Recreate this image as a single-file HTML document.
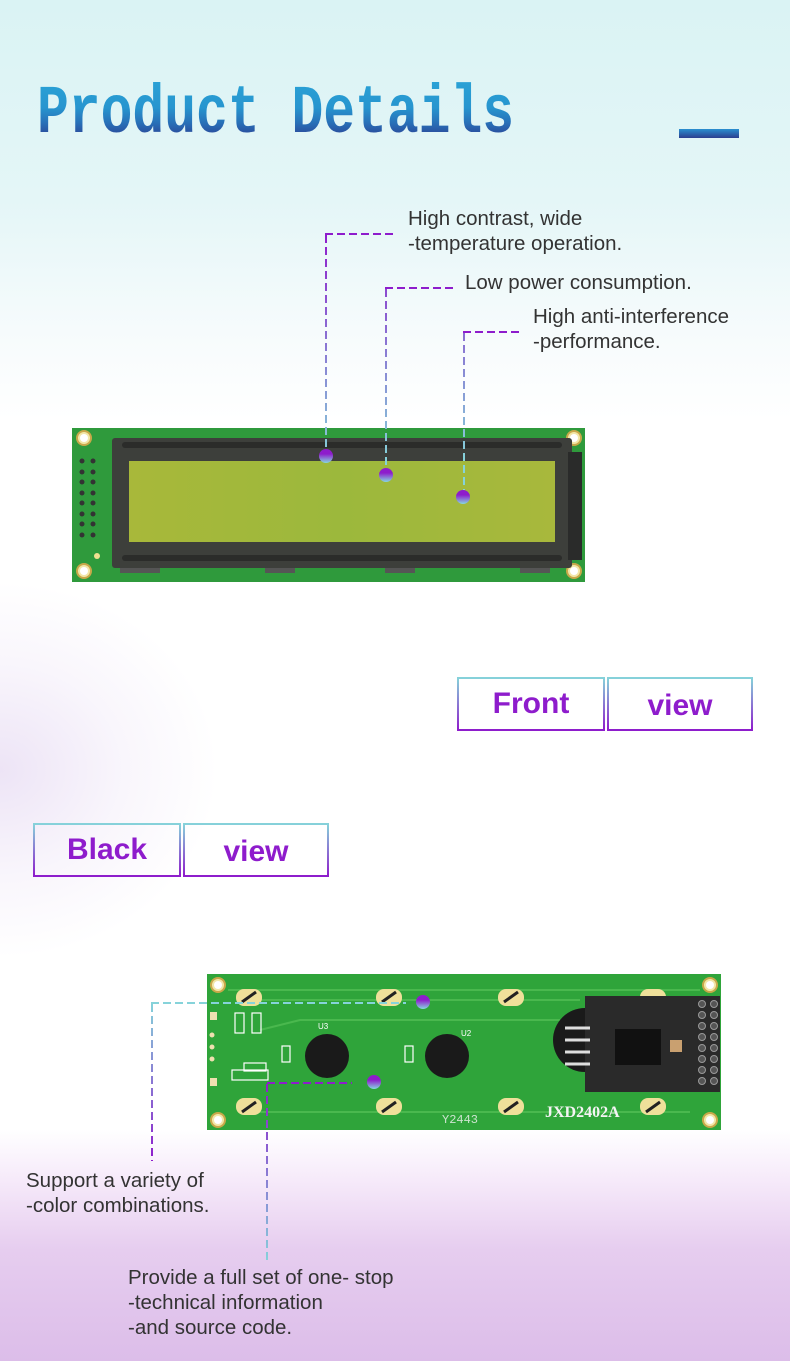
<!DOCTYPE html>
<html><head><meta charset="utf-8">
<style>
html,body{margin:0;padding:0}
body{width:790px;height:1361px;position:relative;overflow:hidden;
background:linear-gradient(180deg,#daf3f4 0px,#e4f6f7 200px,#f6fbfc 330px,#ffffff 420px,#ffffff 1130px,#f6eafa 1180px,#e6cdef 1250px,#dcbde9 1361px);
font-family:"Liberation Sans",sans-serif;}
.blob{position:absolute;left:-220px;top:580px;width:440px;height:380px;border-radius:50%;
background:radial-gradient(ellipse at center,rgba(225,210,240,0.6) 0%,rgba(235,225,245,0.3) 40%,rgba(255,255,255,0) 70%);}
.title{position:absolute;left:37px;top:80px;font-family:"Liberation Mono",monospace;font-weight:bold;font-size:53px;
line-height:53px;transform:scaleY(1.3);transform-origin:0 0;
background:linear-gradient(180deg,#2aa2d6 0%,#2795cf 40%,#2870b8 62%,#2a4a9a 80%,#2a3f8f 100%);-webkit-background-clip:text;background-clip:text;color:transparent;}
.bar{position:absolute;left:679px;top:129px;width:60px;height:9px;background:linear-gradient(180deg,#2a8fd0,#2b3f8f);}
.t{position:absolute;font-size:20.5px;color:#333;line-height:25px;white-space:nowrap;}
.box{position:absolute;height:54px;display:flex;}
.cell{box-sizing:border-box;height:54px;border:2px solid;border-image:linear-gradient(180deg,#86d3da,#8e1ccc) 1;
color:#8e1ccc;font-weight:bold;font-size:30px;display:flex;align-items:center;justify-content:center;background:transparent}
svg{position:absolute;left:0;top:0}
</style></head><body>
<div class="blob"></div>
<div class="title">Product Details</div>
<div class="bar"></div>

<div class="t" style="left:408px;top:206px">High contrast, wide<br>-temperature operation.</div>
<div class="t" style="left:465px;top:270px">Low power consumption.</div>
<div class="t" style="left:533px;top:304px">High anti-interference<br>-performance.</div>
<div class="t" style="left:26px;top:1168px">Support a variety of<br>-color combinations.</div>
<div class="t" style="left:128px;top:1265px">Provide a full set of one- stop<br>-technical information<br>-and source code.</div>

<div class="box" style="left:457px;top:677px"><div class="cell" style="width:148px">Front</div><div class="cell" style="width:146px;margin-left:2px;padding-top:4px">view</div></div>
<div class="box" style="left:33px;top:823px"><div class="cell" style="width:148px">Black</div><div class="cell" style="width:146px;margin-left:2px;padding-top:4px">view</div></div>

<svg width="790" height="1361" viewBox="0 0 790 1361">
<defs>
<linearGradient id="dot" x1="0" y1="0" x2="0" y2="1"><stop offset="0.35" stop-color="#8e1ccc"/><stop offset="1" stop-color="#86d8e0"/></linearGradient>
<linearGradient id="v1" gradientUnits="userSpaceOnUse" x1="0" y1="234" x2="0" y2="460"><stop offset="0" stop-color="#8e1ccc"/><stop offset="1" stop-color="#86d3da"/></linearGradient>
<linearGradient id="v3" gradientUnits="userSpaceOnUse" x1="0" y1="1003" x2="0" y2="1161"><stop offset="0" stop-color="#86d3da"/><stop offset="1" stop-color="#8e1ccc"/></linearGradient>
<linearGradient id="v4" gradientUnits="userSpaceOnUse" x1="0" y1="1083" x2="0" y2="1262"><stop offset="0" stop-color="#8e1ccc"/><stop offset="1" stop-color="#86d3da"/></linearGradient>
<linearGradient id="scr" x1="0" y1="0" x2="1" y2="0"><stop offset="0" stop-color="#a8b83a"/><stop offset="0.5" stop-color="#9cb83c"/><stop offset="1" stop-color="#a8b83c"/></linearGradient>
</defs>

<!-- FRONT BOARD -->
<rect x="72" y="428" width="513" height="154" fill="#2f9a3c"/>
<g fill="#f2e7a8" stroke="#c9a84a" stroke-width="2">
<circle cx="84" cy="438" r="7"/><circle cx="574" cy="438" r="7"/><circle cx="84" cy="571" r="7"/><circle cx="574" cy="571" r="7"/></g>
<g fill="#fff"><circle cx="84" cy="438" r="4"/><circle cx="574" cy="438" r="4"/><circle cx="84" cy="571" r="4"/><circle cx="574" cy="571" r="4"/></g>
<circle cx="97" cy="556" r="3" fill="#f0e090"/>
<g fill="#333">
<circle cx="82" cy="461" r="2.5"/><circle cx="93" cy="461" r="2.5"/><circle cx="82" cy="472" r="2.5"/><circle cx="93" cy="472" r="2.5"/>
<circle cx="82" cy="482" r="2.5"/><circle cx="93" cy="482" r="2.5"/><circle cx="82" cy="493" r="2.5"/><circle cx="93" cy="493" r="2.5"/>
<circle cx="82" cy="503" r="2.5"/><circle cx="93" cy="503" r="2.5"/><circle cx="82" cy="514" r="2.5"/><circle cx="93" cy="514" r="2.5"/>
<circle cx="82" cy="524" r="2.5"/><circle cx="93" cy="524" r="2.5"/><circle cx="82" cy="535" r="2.5"/><circle cx="93" cy="535" r="2.5"/></g>
<rect x="112" y="438" width="460" height="130" rx="3" fill="#3d3f3b"/>
<rect x="122" y="442" width="440" height="6" rx="3" fill="#2b2c2a"/>
<rect x="122" y="555" width="440" height="6" rx="3" fill="#2b2c2a"/>
<rect x="129" y="461" width="426" height="81" fill="url(#scr)"/>
<rect x="568" y="452" width="14" height="108" fill="#2a2b2a"/>
<g fill="#555"><rect x="120" y="568" width="40" height="5"/><rect x="265" y="568" width="30" height="5"/><rect x="385" y="568" width="30" height="5"/><rect x="520" y="568" width="30" height="5"/></g>

<!-- BACK BOARD -->
<rect x="207" y="974" width="514" height="156" fill="#2fa43a"/>
<g fill="none" stroke="#4ab84e" stroke-width="2">
<path d="M228 990 H700 M240 1000 H580 M240 1112 H690 M260 1030 L300 1020 H560"/></g>
<g fill="#f2e7a8" stroke="#c9a84a" stroke-width="2">
<circle cx="218" cy="985" r="7"/><circle cx="710" cy="985" r="7"/><circle cx="218" cy="1120" r="7"/><circle cx="710" cy="1120" r="7"/></g>
<g fill="#fff"><circle cx="218" cy="985" r="4"/><circle cx="710" cy="985" r="4"/><circle cx="218" cy="1120" r="4"/><circle cx="710" cy="1120" r="4"/></g>
<g fill="#efe09a">
<rect x="236" y="989" width="26" height="17" rx="8"/><rect x="376" y="989" width="26" height="17" rx="8"/><rect x="498" y="989" width="26" height="17" rx="8"/><rect x="640" y="989" width="26" height="17" rx="8"/>
<rect x="236" y="1098" width="26" height="17" rx="8"/><rect x="376" y="1098" width="26" height="17" rx="8"/><rect x="498" y="1098" width="26" height="17" rx="8"/><rect x="640" y="1098" width="26" height="17" rx="8"/></g>
<g stroke="#222" stroke-width="3"><path d="M242 1002 L256 992 M382 1002 L396 992 M504 1002 L518 992 M382 1112 L396 1102 M504 1112 L518 1102 M242 1112 L256 1102 M646 1112 L660 1102"/></g>
<circle cx="327" cy="1056" r="22" fill="#1a1a1a"/>
<circle cx="447" cy="1056" r="22" fill="#1a1a1a"/>
<circle cx="585" cy="1040" r="32" fill="#1a1a1a"/>
<g fill="#fff" font-family="Liberation Sans" font-size="8"><text x="318" y="1029">U3</text><text x="461" y="1036">U2</text></g>
<g fill="none" stroke="#fff" stroke-width="1.2">
<rect x="235" y="1013" width="9" height="20"/><rect x="252" y="1013" width="9" height="20"/>
<rect x="232" y="1070" width="36" height="10"/><rect x="244" y="1063" width="22" height="8"/><rect x="282" y="1046" width="8" height="16"/><rect x="405" y="1046" width="8" height="16"/></g>
<g fill="#efe0b0"><rect x="210" y="1012" width="7" height="8"/><rect x="210" y="1078" width="7" height="8"/><circle cx="212" cy="1035" r="2.5"/><circle cx="212" cy="1047" r="2.5"/><circle cx="212" cy="1059" r="2.5"/></g>
<text x="545" y="1117" fill="#f4f4f4" font-family="Liberation Serif" font-weight="bold" font-size="16">JXD2402A</text>
<text x="442" y="1123" fill="#cde4cf" font-family="Liberation Mono" font-size="12">Y2443</text>
<rect x="585" y="996" width="135" height="96" fill="#2a2a2a"/>
<rect x="615" y="1029" width="46" height="36" fill="#111"/>
<g stroke="#ddd" stroke-width="3"><path d="M565 1028 H590 M565 1040 H590 M565 1052 H590 M565 1064 H590"/></g>
<g fill="#555" stroke="#999" stroke-width="1">
<circle cx="702" cy="1004" r="3.5"/><circle cx="714" cy="1004" r="3.5"/><circle cx="702" cy="1015" r="3.5"/><circle cx="714" cy="1015" r="3.5"/>
<circle cx="702" cy="1026" r="3.5"/><circle cx="714" cy="1026" r="3.5"/><circle cx="702" cy="1037" r="3.5"/><circle cx="714" cy="1037" r="3.5"/>
<circle cx="702" cy="1048" r="3.5"/><circle cx="714" cy="1048" r="3.5"/><circle cx="702" cy="1059" r="3.5"/><circle cx="714" cy="1059" r="3.5"/>
<circle cx="702" cy="1070" r="3.5"/><circle cx="714" cy="1070" r="3.5"/><circle cx="702" cy="1081" r="3.5"/><circle cx="714" cy="1081" r="3.5"/></g>
<rect x="670" y="1040" width="12" height="12" fill="#c9a070"/>

<!-- CALLOUT LINES -->
<g fill="none" stroke-width="2" stroke-dasharray="8 4">
<path d="M325 234 H397" stroke="#8e1ccc"/>
<path d="M326 235 V450" stroke="url(#v1)"/>
<path d="M385 288 H457" stroke="#8e1ccc"/>
<path d="M386 289 V468" stroke="url(#v1)"/>
<path d="M463 332 H522" stroke="#8e1ccc"/>
<path d="M464 333 V490" stroke="url(#v1)"/>
<path d="M151 1003 H406" stroke="#86d3da"/>
<path d="M152 1004 V1161" stroke="url(#v3)"/>
<path d="M267 1083 H352" stroke="#8e1ccc"/>
<path d="M267 1084 V1262" stroke="url(#v4)"/>
</g>
<g fill="url(#dot)">
<circle cx="326" cy="456" r="7"/><circle cx="386" cy="475" r="7"/><circle cx="463" cy="497" r="7"/>
<circle cx="423" cy="1002" r="7"/><circle cx="374" cy="1082" r="7"/></g>
</svg>
</body></html>
